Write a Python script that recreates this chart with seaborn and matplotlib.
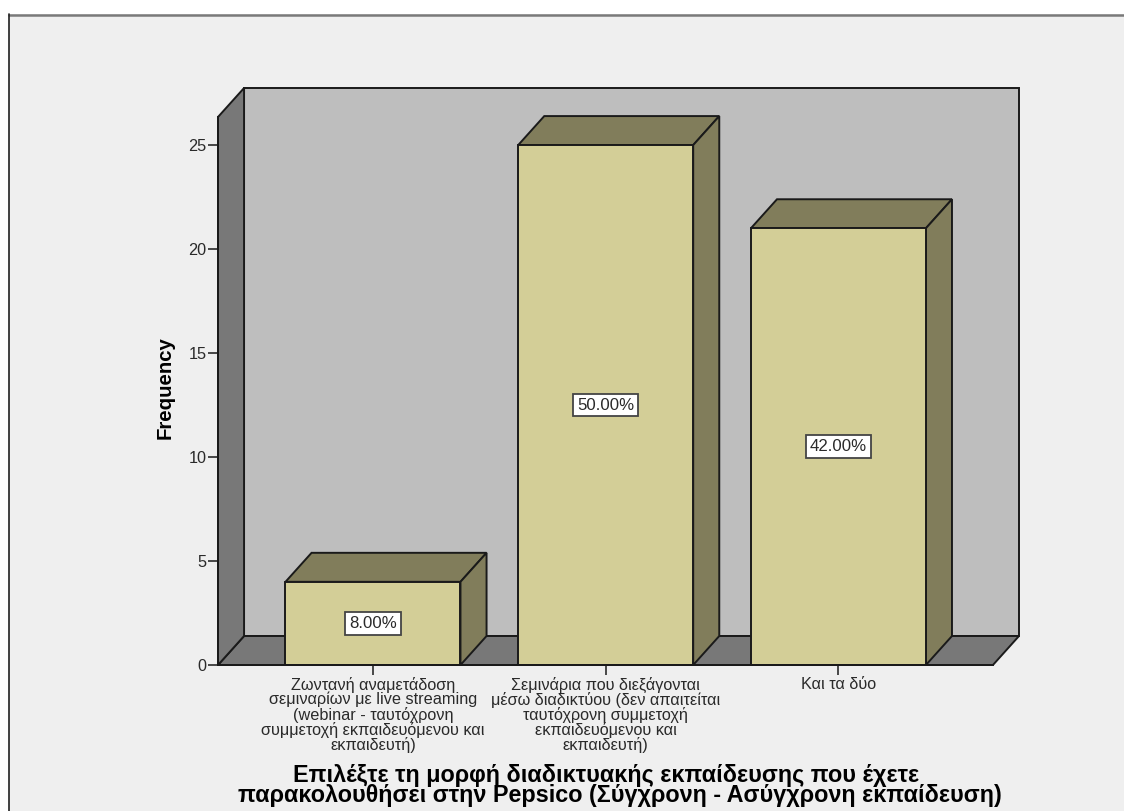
import matplotlib
matplotlib.use("Agg")
import matplotlib.pyplot as plt
from matplotlib.patches import Polygon, Rectangle
import pandas as pd
import seaborn as sns

categories = [
    "Ζωντανή αναμετάδοση\nσεμιναρίων με live streaming\n(webinar - ταυτόχρονη\nσυμμετοχή εκπαιδευόμενου και\nεκπαιδευτή)",
    "Σεμινάρια που διεξάγονται\nμέσω διαδικτύου (δεν απαιτείται\nταυτόχρονη συμμετοχή\nεκπαιδευόμενου και\nεκπαιδευτή)",
    "Και τα δύο",
]
frequencies = [4, 25, 21]
percent_labels = ["8.00%", "50.00%", "42.00%"]
y_ticks = [0, 5, 10, 15, 20, 25]
x_title = "Επιλέξτε τη μορφή διαδικτυακής εκπαίδευσης που έχετε    \nπαρακολουθήσει στην Pepsico (Σύγχρονη - Ασύγχρονη εκπαίδευση)"
y_title = "Frequency"

FACE = "#D3CE97"
SHADE = "#817D5B"
WALL = "#BEBEBE"
FLOOR = "#787878"
PANEL = "#EFEFEF"
INK = "#1A1A1A"
TEXT = "#2A2A2A"

# Oblique projection depth, in data units
DX, DY = 0.112, 1.394
X_LO, X_HI = -0.666, 2.664
Y_TOP = 26.35

sns.set_theme(style="white")
plt.rcParams["font.family"] = ["Liberation Sans", "DejaVu Sans"]

W, H = 1124, 811
fig = plt.figure(figsize=(W / 100, H / 100), dpi=100, facecolor="white")
fig.add_artist(Rectangle((9 / W, 0), 1, 1 - 14 / H, transform=fig.transFigure,
                         facecolor=PANEL, edgecolor="none", zorder=-3))
fig.add_artist(plt.Line2D([9 / W, 1], [1 - 14.5 / H] * 2, color="#7A7A7A", lw=1.8, zorder=-2))
fig.add_artist(plt.Line2D([9 / W, 9 / W], [0, 1 - 14 / H], color="#202020", lw=1.2, zorder=-2))

ax = fig.add_axes([218 / W, 1 - 665 / H, (1019 - 218) / W, (665 - 88) / H])
ax.patch.set_alpha(0)

data = pd.DataFrame({"category": categories, "frequency": frequencies})
sns.barplot(data=data, x="category", y="frequency", order=categories, ax=ax,
            color=FACE, saturation=1, width=0.752, edgecolor=INK, linewidth=1.4, zorder=4)
for bar in ax.patches:
    bar.set_facecolor(FACE)

ax.set_xlim(X_LO, X_HI + DX)
ax.set_ylim(0, Y_TOP + DY)


def face(points, color, z):
    ax.add_patch(Polygon(points, closed=True, facecolor=color, edgecolor=INK,
                         linewidth=1.4, joinstyle="miter", zorder=z, clip_on=False))


bars = list(ax.patches)

# Chart box: back wall, floor and left wall
face([(X_LO + DX, DY), (X_HI + DX, DY), (X_HI + DX, Y_TOP + DY), (X_LO + DX, Y_TOP + DY)], WALL, 1)
face([(X_LO, 0), (X_HI, 0), (X_HI + DX, DY), (X_LO + DX, DY)], FLOOR, 2)
face([(X_LO, 0), (X_LO + DX, DY), (X_LO + DX, Y_TOP + DY), (X_LO, Y_TOP)], FLOOR, 2)

# Top and side faces of each bar, with the percentage box on the front
for bar, label in zip(bars, percent_labels):
    x0, x1, h = bar.get_x(), bar.get_x() + bar.get_width(), bar.get_height()
    face([(x0, h), (x1, h), (x1 + DX, h + DY), (x0 + DX, h + DY)], SHADE, 3)
    face([(x1, 0), (x1 + DX, DY), (x1 + DX, h + DY), (x1, h)], SHADE, 3)
    ax.text((x0 + x1) / 2, h / 2, label, ha="center", va="center", fontsize=12.1,
            color=TEXT, zorder=6,
            bbox=dict(boxstyle="square,pad=0.23", facecolor="white", edgecolor="#444444", linewidth=1.3))

for side in ("top", "right"):
    ax.spines[side].set_visible(False)
ax.spines["left"].set_bounds(0, Y_TOP)
ax.spines["bottom"].set_bounds(X_LO, X_HI)
for side in ("left", "bottom"):
    ax.spines[side].set_color(INK)
    ax.spines[side].set_linewidth(1.4)
    ax.spines[side].set_zorder(5)

ax.set_yticks(y_ticks)
ax.tick_params(axis="y", left=True, length=7, width=1.1, color=INK, labelsize=11.7,
               labelcolor=TEXT, pad=1.2)
ax.tick_params(axis="x", bottom=True, length=7, width=1.1, color=INK, pad=1.5)
ax.set_xticks(range(len(categories)))
ax.set_xticklabels(categories, fontsize=11.7, color=TEXT, linespacing=0.93, ha="center")

ax.set_xlabel(x_title, fontsize=16.8, fontweight="bold", color="black", linespacing=0.84)
ax.set_ylabel(y_title, fontsize=14.7, fontweight="bold", color="black")
# Axis titles placed in pixel terms relative to the axes box
ax.xaxis.set_label_coords((619.5 - 218) / (1019 - 218), -(764 - 665) / (665 - 88), transform=ax.transAxes)
ax.xaxis.label.set_verticalalignment("top")
ax.yaxis.set_label_coords((175 - 218) / (1019 - 218), (665 - 388) / (665 - 88), transform=ax.transAxes)

fig.savefig("out.png", dpi=100, facecolor="white")
